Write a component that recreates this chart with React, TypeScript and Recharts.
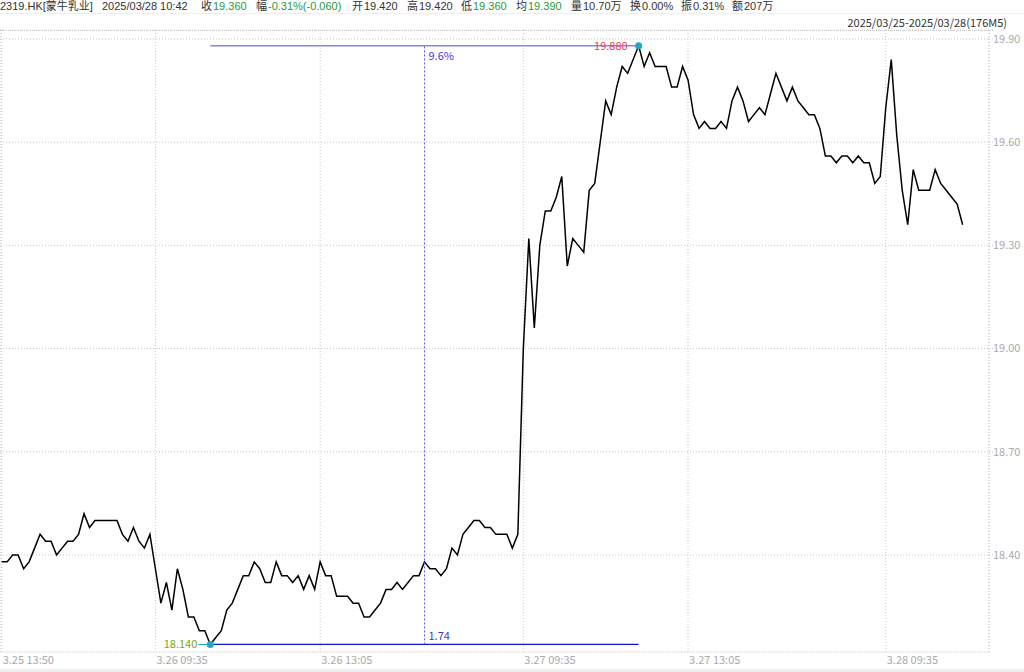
import React from 'react';
import { LineChart, Line, XAxis, YAxis, CartesianGrid, ReferenceLine, ReferenceDot } from 'recharts';

// 176 x M5 closes, 3.25 13:50 -> 3.28 10:45
const prices = [
  18.38, 18.38, 18.40, 18.40, 18.36, 18.38, 18.42, 18.46, 18.44, 18.44,
  18.40, 18.42, 18.44, 18.44, 18.46, 18.52, 18.48, 18.50, 18.50, 18.50,
  18.50, 18.50, 18.46, 18.44, 18.48, 18.44, 18.42, 18.46, 18.36, 18.26,
  18.32, 18.24, 18.36, 18.30, 18.22, 18.22, 18.18, 18.18, 18.14, 18.16,
  18.18, 18.24, 18.26, 18.30, 18.34, 18.34, 18.38, 18.36, 18.32, 18.32,
  18.38, 18.34, 18.34, 18.32, 18.34, 18.30, 18.34, 18.30, 18.38, 18.34,
  18.34, 18.28, 18.28, 18.28, 18.26, 18.26, 18.22, 18.22, 18.24, 18.26,
  18.30, 18.30, 18.32, 18.30, 18.32, 18.34, 18.34, 18.38, 18.36, 18.36,
  18.34, 18.36, 18.42, 18.40, 18.46, 18.48, 18.50, 18.50, 18.48, 18.48,
  18.46, 18.46, 18.46, 18.42, 18.46, 19.00, 19.32, 19.06, 19.30, 19.40,
  19.40, 19.44, 19.50, 19.24, 19.32, 19.30, 19.28, 19.46, 19.48, 19.60,
  19.72, 19.68, 19.76, 19.82, 19.80, 19.84, 19.88, 19.82, 19.86, 19.82,
  19.82, 19.82, 19.76, 19.76, 19.82, 19.78, 19.68, 19.64, 19.66, 19.64,
  19.64, 19.66, 19.64, 19.72, 19.76, 19.72, 19.66, 19.68, 19.70, 19.68,
  19.74, 19.80, 19.76, 19.72, 19.76, 19.72, 19.70, 19.68, 19.68, 19.64,
  19.56, 19.56, 19.54, 19.56, 19.56, 19.54, 19.56, 19.54, 19.54, 19.48,
  19.50, 19.70, 19.84, 19.62, 19.46, 19.36, 19.52, 19.46, 19.46, 19.46,
  19.52, 19.48, 19.46, 19.44, 19.42, 19.36,
];

const xTickIdx = [0, 28, 58, 95, 125, 161];
const xTickLabels = ['3.25 13:50', '3.26 09:35', '3.26 13:05', '3.27 09:35', '3.27 13:05', '3.28 09:35'];
const yTicks = [18.4, 18.7, 19.0, 19.3, 19.6, 19.9];

// range measurement (low -> high)
const lowIdx = 38;
const highIdx = 116;
const midIdx = 77;
const lowVal = 18.14;
const highVal = 19.88;

const headerItems = [
  { k: '', v: '2319.HK[蒙牛乳业]', c: '#333', left: 0 },
  { k: '', v: '2025/03/28 10:42', c: '#333', left: 102 },
  { k: '收', v: '19.360', c: '#1f9a3a', left: 201 },
  { k: '幅', v: '-0.31%(-0.060)', c: '#1f9a3a', left: 256 },
  { k: '开', v: '19.420', c: '#333', left: 352 },
  { k: '高', v: '19.420', c: '#333', left: 407 },
  { k: '低', v: '19.360', c: '#1f9a3a', left: 461 },
  { k: '均', v: '19.390', c: '#1f9a3a', left: 516 },
  { k: '量', v: '10.70万', c: '#333', left: 571 },
  { k: '换', v: '0.00%', c: '#333', left: 630 },
  { k: '振', v: '0.31%', c: '#333', left: 681 },
  { k: '额', v: '207万', c: '#333', left: 732 },
];

const data = prices.map((p, i) => ({ i, p }));

const FONT = '"Noto Sans CJK SC", "Noto Sans", sans-serif';
const HEAD_FONT = '"Liberation Sans", "Noto Sans CJK SC", sans-serif';

const XTick = (props: any) => {
  const { x, y, payload } = props;
  const idx = xTickIdx.indexOf(payload.value);
  return (
    <text x={x + 1} y={y} dy="0.35em" textAnchor="start" fontSize={11} fill="#aaa" fontFamily={FONT}>
      {xTickLabels[idx]}
    </text>
  );
};

const LowMark = (props: any) => {
  const { cx, cy } = props;
  return (
    <g>
      <line x1={cx - 12} y1={cy} x2={cx} y2={cy} stroke="#1aa0b4" strokeWidth={1} />
      <circle cx={cx} cy={cy} r={3.5} fill="#22a8c4" />
      <text x={cx - 13} y={cy} dy="0.35em" textAnchor="end" fontSize={11} fill="#72a818" fontFamily={FONT}>
        18.140
      </text>
    </g>
  );
};

const HighMark = (props: any) => {
  const { cx, cy } = props;
  return (
    <g>
      <circle cx={cx} cy={cy} r={3.5} fill="#22a8c4" />
      <text x={cx - 11} y={cy} dy="0.35em" textAnchor="end" fontSize={11} fill="#e8405a" fontFamily={FONT}>
        19.880
      </text>
    </g>
  );
};

const PctMark = (props: any) => {
  const { cx, cy } = props;
  return (
    <text x={cx + 4} y={cy + 10} dy="0.35em" textAnchor="start" fontSize={11} fill="#3b3bdc" fontFamily={FONT}>
      9.6%
    </text>
  );
};

const RatioMark = (props: any) => {
  const { cx, cy } = props;
  return (
    <text x={cx + 4} y={cy - 8} dy="0.35em" textAnchor="start" fontSize={11} fill="#3b3bdc" fontFamily={FONT}>
      1.74
    </text>
  );
};

export default function App() {
  return (
    <div style={{ position: 'absolute', left: 0, top: 0, width: 1024, height: 672, background: '#fff', fontFamily: FONT, overflow: 'hidden' }}>
      {headerItems.map((h, n) => (
        <div key={n} style={{ position: 'absolute', left: h.left, top: 0, height: 13, display: 'flex', fontFamily: HEAD_FONT, fontSize: 11, lineHeight: '13px', whiteSpace: 'nowrap', color: '#333' }}>
          {h.k ? <span style={{ display: 'inline-block', lineHeight: '13px', marginRight: 1 }}>{h.k}</span> : null}
          <span style={{ display: 'inline-block', lineHeight: '13px', color: h.c }}>{h.v}</span>
        </div>
      ))}
      <div style={{ position: 'absolute', left: 0, top: 13, width: 1024, borderTop: '1px solid #eee' }} />
      <div style={{ position: 'absolute', right: 17, top: 15, fontSize: 11, lineHeight: '14px', color: '#333', whiteSpace: 'nowrap' }}>
        <span style={{ display: 'inline-block', lineHeight: '14px' }}>2025/03/25-2025/03/28(176M5)</span>
      </div>
      <div style={{ position: 'absolute', left: 0, top: 30, width: 993, borderTop: '1px dotted #ccc' }} />
      <div style={{ position: 'absolute', left: 0, top: 669, width: 1024, height: 3, background: '#eeeeee' }} />
      <div style={{ position: 'absolute', left: 0, top: 0 }}>
        <LineChart width={1024} height={672} data={data} margin={{ top: 30, right: 0, bottom: 0, left: 0 }}>
          <CartesianGrid stroke="#c8c8c8" strokeDasharray="1 2" />
          <XAxis
            dataKey="i"
            type="number"
            domain={[-0.3, 179.8]}
            ticks={xTickIdx}
            interval={0}
            height={20}
            tick={<XTick />}
            tickLine={false}
            axisLine={{ stroke: '#ececec' }}
            allowDataOverflow
          />
          <YAxis
            orientation="right"
            type="number"
            domain={[18.118, 19.926]}
            ticks={yTicks}
            width={35}
            tickSize={4}
            tickMargin={0}
            tickFormatter={(v: number) => v.toFixed(2)}
            tick={{ fontSize: 11, fill: '#aaa', fontFamily: FONT }}
            tickLine={{ stroke: '#c8c8c8', strokeDasharray: '1 2' }}
            axisLine={{ stroke: '#c8c8c8', strokeDasharray: '1 2' }}
            allowDataOverflow
          />
          <Line type="linear" dataKey="p" stroke="#000" strokeWidth={1.5} dot={false} isAnimationActive={false} />
          <ReferenceLine segment={[{ x: lowIdx, y: highVal }, { x: highIdx, y: highVal }]} stroke="#8484f4" strokeWidth={1.5} />
          <ReferenceLine segment={[{ x: lowIdx, y: lowVal }, { x: highIdx, y: lowVal }]} stroke="#1414c8" strokeWidth={1.2} />
          <ReferenceLine segment={[{ x: midIdx, y: lowVal }, { x: midIdx, y: highVal }]} stroke="#5a5ae6" strokeDasharray="2 2" strokeWidth={1} />
          <ReferenceDot x={midIdx} y={highVal} r={0} shape={<PctMark />} />
          <ReferenceDot x={midIdx} y={lowVal} r={0} shape={<RatioMark />} />
          <ReferenceDot x={lowIdx} y={lowVal} r={3} shape={<LowMark />} />
          <ReferenceDot x={highIdx} y={highVal} r={3} shape={<HighMark />} />
        </LineChart>
      </div>
    </div>
  );
}
